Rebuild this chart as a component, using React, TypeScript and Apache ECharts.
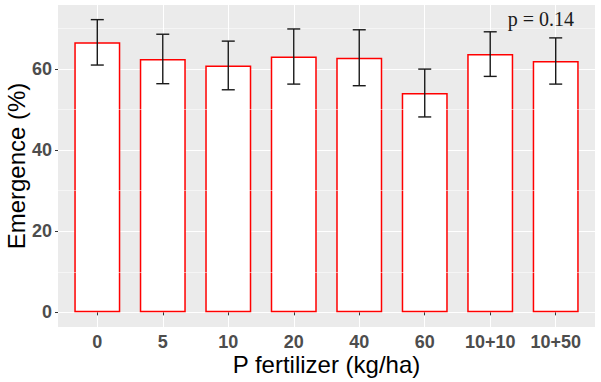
import React, { useEffect, useRef } from "react";
import * as echarts from "echarts";

const categories = ["0", "5", "10", "20", "40", "60", "10+10", "10+50"];
const means = [66.6, 62.5, 60.9, 63.1, 62.8, 54.1, 63.7, 62.0];
const errors = [5.6, 6.1, 6.0, 6.8, 6.9, 5.9, 5.5, 5.7];
const yMajorTicks = [0, 20, 40, 60];
const yMinorTicks = [10, 30, 50, 70];
const pLabel = "p = 0.14";

export default function App() {
  const ref = useRef<HTMLDivElement>(null);
  useEffect(() => {
    if (!ref.current) return;
    const chart = echarts.init(ref.current, undefined, { renderer: "svg" });
    const positions = categories.map((_, i) => i + 1);
    const tops = means.map((m, i) => m + errors[i]);
    const dataMax = Math.max(...tops);
    const yMin = -0.05 * dataMax;
    const yMax = 1.05 * dataMax;
    const xMin = 1 - 0.6;
    const xMax = categories.length + 0.6;
    const sans = "'Liberation Sans', Arial, sans-serif";
    chart.setOption({
      animation: false,
      title: {
        text: pLabel,
        right: 22,
        top: 4,
        textStyle: {
          fontFamily: "'Liberation Serif', 'Times New Roman', serif",
          fontSize: 20,
          fontWeight: "normal",
          color: "#1a1a1a",
        },
      },
      grid: {
        left: 58,
        right: 6,
        top: 5,
        bottom: 55,
        outerBoundsMode: "none",
        containLabel: false,
        show: true,
        backgroundColor: "#EBEBEB",
        borderWidth: 0,
      },
      xAxis: {
        type: "value",
        min: xMin,
        max: xMax,
        name: "P fertilizer (kg/ha)",
        nameLocation: "middle",
        nameGap: 25,
        nameMoveOverlap: false,
        nameTextStyle: { fontFamily: sans, fontSize: 24, lineHeight: 24, color: "#000" },
        axisLine: { show: false },
        axisTick: {
          show: true,
          length: 3,
          customValues: positions,
          lineStyle: { color: "#333333", width: 1 },
        },
        axisLabel: {
          customValues: positions,
          margin: 7,
          fontFamily: sans,
          fontSize: 18,
          lineHeight: 16,
          fontWeight: "bold",
          color: "#4D4D4D",
          formatter: (v: number) => categories[Math.round(v) - 1] ?? "",
        },
        splitLine: { show: true, lineStyle: { color: "#FFFFFF", width: 1 } },
      },
      yAxis: {
        type: "value",
        min: yMin,
        max: yMax,
        name: "Emergence (%)",
        nameLocation: "middle",
        nameGap: 30,
        nameMoveOverlap: false,
        nameTextStyle: { fontFamily: sans, fontSize: 24, color: "#000" },
        axisLine: { show: false },
        axisTick: {
          show: true,
          length: 3,
          customValues: yMajorTicks,
          lineStyle: { color: "#333333", width: 1 },
        },
        axisLabel: {
          customValues: yMajorTicks,
          margin: 6,
          fontFamily: sans,
          fontSize: 18,
          fontWeight: "bold",
          color: "#4D4D4D",
        },
        splitLine: { show: true, lineStyle: { color: "#FFFFFF", width: 1 } },
      },
      series: [
        {
          type: "line",
          data: [],
          z: 1,
          silent: true,
          markLine: {
            silent: true,
            symbol: "none",
            label: { show: false },
            lineStyle: { color: "#FFFFFF", width: 0.5, type: "solid" },
            data: yMinorTicks.map((v) => ({ yAxis: v })),
          },
        },
        {
          type: "bar",
          barWidth: 46,
          z: 2,
          data: means.map((m, i) => [positions[i], m]),
          itemStyle: { color: "#FFFFFF", borderColor: "#FF0000", borderWidth: 1.5 },
          silent: true,
        },
        {
          type: "custom",
          data: means.map((m, i) => [positions[i], m + errors[i], m - errors[i]]),
          renderItem: (params: any, api: any) => {
            const x = api.value(0);
            const hi = api.coord([x, api.value(1)]);
            const lo = api.coord([x, api.value(2)]);
            const w = 6.5;
            const style = { stroke: "#1a1a1a", lineWidth: 1.4 };
            return {
              type: "group",
              children: [
                { type: "line", shape: { x1: hi[0], y1: hi[1], x2: lo[0], y2: lo[1] }, style },
                { type: "line", shape: { x1: hi[0] - w, y1: hi[1], x2: hi[0] + w, y2: hi[1] }, style },
                { type: "line", shape: { x1: lo[0] - w, y1: lo[1], x2: lo[0] + w, y2: lo[1] }, style },
              ],
            };
          },
          silent: true,
          z: 5,
        },
      ],
    });
    return () => chart.dispose();
  }, []);
  return <div ref={ref} style={{ width: 601, height: 382, position: "absolute", left: 0, top: 0 }} />;
}
